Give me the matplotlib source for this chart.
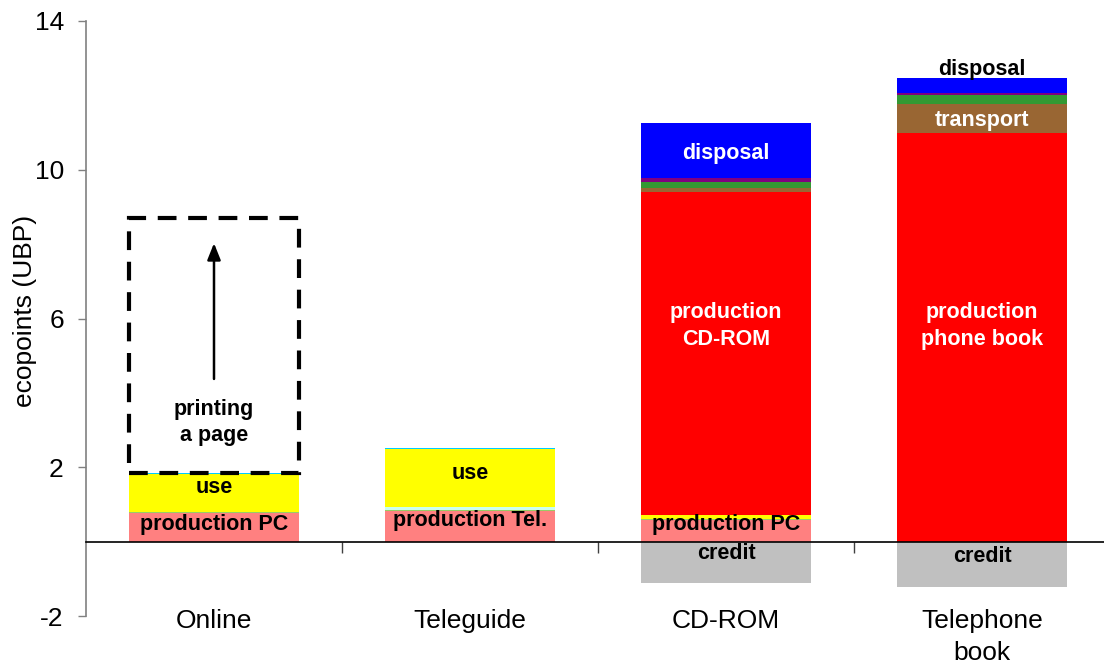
import matplotlib
matplotlib.use("Agg")
import matplotlib.pyplot as plt
from matplotlib.patches import Rectangle
import numpy as np

plt.rcParams['font.family'] = ['Liberation Sans', 'DejaVu Sans']
plt.rcParams['axes.unicode_minus'] = False

categories = ["Online", "Teleguide", "CD-ROM", "Telephone\nbook"]

# stacked segments (bottom to top)
production_device = [0.77, 0.82, 0.58, 0.0]
green_line = [0.03, 0.03, 0.03, 0.0]
pale = [0.0, 0.07, 0.0, 0.0]
use = [1.01, 1.56, 0.11, 0.0]
cyan = [0.04, 0.04, 0.0, 0.0]
production_product = [0.0, 0.0, 8.69, 10.98]
transport = [0.0, 0.0, 0.10, 0.80]
green = [0.0, 0.0, 0.16, 0.24]
purple = [0.0, 0.0, 0.11, 0.04]
disposal = [0.0, 0.0, 1.47, 0.41]
credit = [0.0, 0.0, -1.10, -1.23]
printing_page = [6.86, 0.0, 0.0, 0.0]

segments = [
    (production_device, "#FF8080"),
    (green_line, "#99CC66"),
    (pale, "#CCFFEE"),
    (use, "#FFFF00"),
    (cyan, "#00CCFF"),
    (production_product, "#FF0000"),
    (transport, "#996633"),
    (green, "#339933"),
    (purple, "#800080"),
    (disposal, "#0000FF"),
]

fig = plt.figure(figsize=(11.04, 6.66), dpi=100)
ax = fig.add_axes([86 / 1104, 1 - 616 / 666, 1024 / 1104, 595 / 666])

x = np.arange(len(categories))
width = 0.664
bottom = np.zeros(len(categories))
for vals, col in segments:
    v = np.array(vals)
    ax.bar(x, v, width, bottom=bottom, color=col, edgecolor='none', zorder=2)
    bottom = bottom + v
ax.bar(x, credit, width, color="#C0C0C0", edgecolor='none', zorder=2)

# dashed box for printing a page (Online)
online_top = (production_device[0] + green_line[0] + pale[0] + use[0] + cyan[0])
box = Rectangle((x[0] - width / 2, online_top), width, printing_page[0],
                fill=False, edgecolor='black', linewidth=3.0,
                linestyle=(0, (4.5, 2.8)), zorder=3)
ax.add_patch(box)
ax.annotate("", xy=(x[0], 8.1), xytext=(x[0], 4.3),
            arrowprops=dict(arrowstyle="-|>,head_width=0.4,head_length=1.0",
                            color='black', lw=1.8), zorder=4)

bold = dict(fontsize=15.5, fontweight='bold', ha='center', va='center', zorder=5)
ax.text(x[0], 0.46, "production PC", color='black', **bold)
ax.text(x[0], 1.45, "use", color='black', **bold)
ax.text(x[0], 3.2, "printing\na page", color='black', linespacing=1.35, **bold)
ax.text(x[1], 0.58, "production Tel.", color='black', **bold)
ax.text(x[1], 1.83, "use", color='black', **bold)
ax.text(x[2], 0.45, "production PC", color='black', **bold)
ax.text(x[2], -0.32, "credit", color='black', **bold)
ax.text(x[2], 5.8, "production\nCD-ROM", color='white', linespacing=1.35, **bold)
ax.text(x[2], 10.44, "disposal", color='white', **bold)
ax.text(x[3], -0.40, "credit", color='black', **bold)
ax.text(x[3], 5.8, "production\nphone book", color='white', linespacing=1.35, **bold)
ax.text(x[3], 11.33, "transport", color='white', **bold)
ax.text(x[3], 12.7, "disposal", color='black', **bold)

ax.set_xlim(-0.5, 3.5)
ax.set_ylim(-2, 14)
ax.set_yticks([-2, 2, 6, 10, 14])
ax.tick_params(axis='y', labelsize=19, length=6, width=1, color='#808080',
               direction='out', pad=10)
ax.set_ylabel("ecopoints (UBP)", fontsize=19)
ax.yaxis.set_label_coords(-0.048, 0.513)

ax.set_xticks(x)
ax.set_xticklabels(categories, fontsize=19, linespacing=1.4)
ax.tick_params(axis='x', length=0, pad=-5)

for s in ['top', 'right', 'bottom']:
    ax.spines[s].set_visible(False)
ax.spines['left'].set_color('#808080')
ax.spines['left'].set_linewidth(1.2)

# category axis at zero with boundary ticks
sec = ax.secondary_xaxis(2 / 16)
sec.set_xticks(np.arange(len(categories) - 1) + 0.5)
sec.set_xticklabels([])
sec.tick_params(axis='x', length=8, width=1, direction='out', color='#404040')
sec.spines['bottom'].set_color('black')
sec.spines['bottom'].set_linewidth(1.2)
sec.set_zorder(6)

fig.savefig("out.png", dpi=100)
